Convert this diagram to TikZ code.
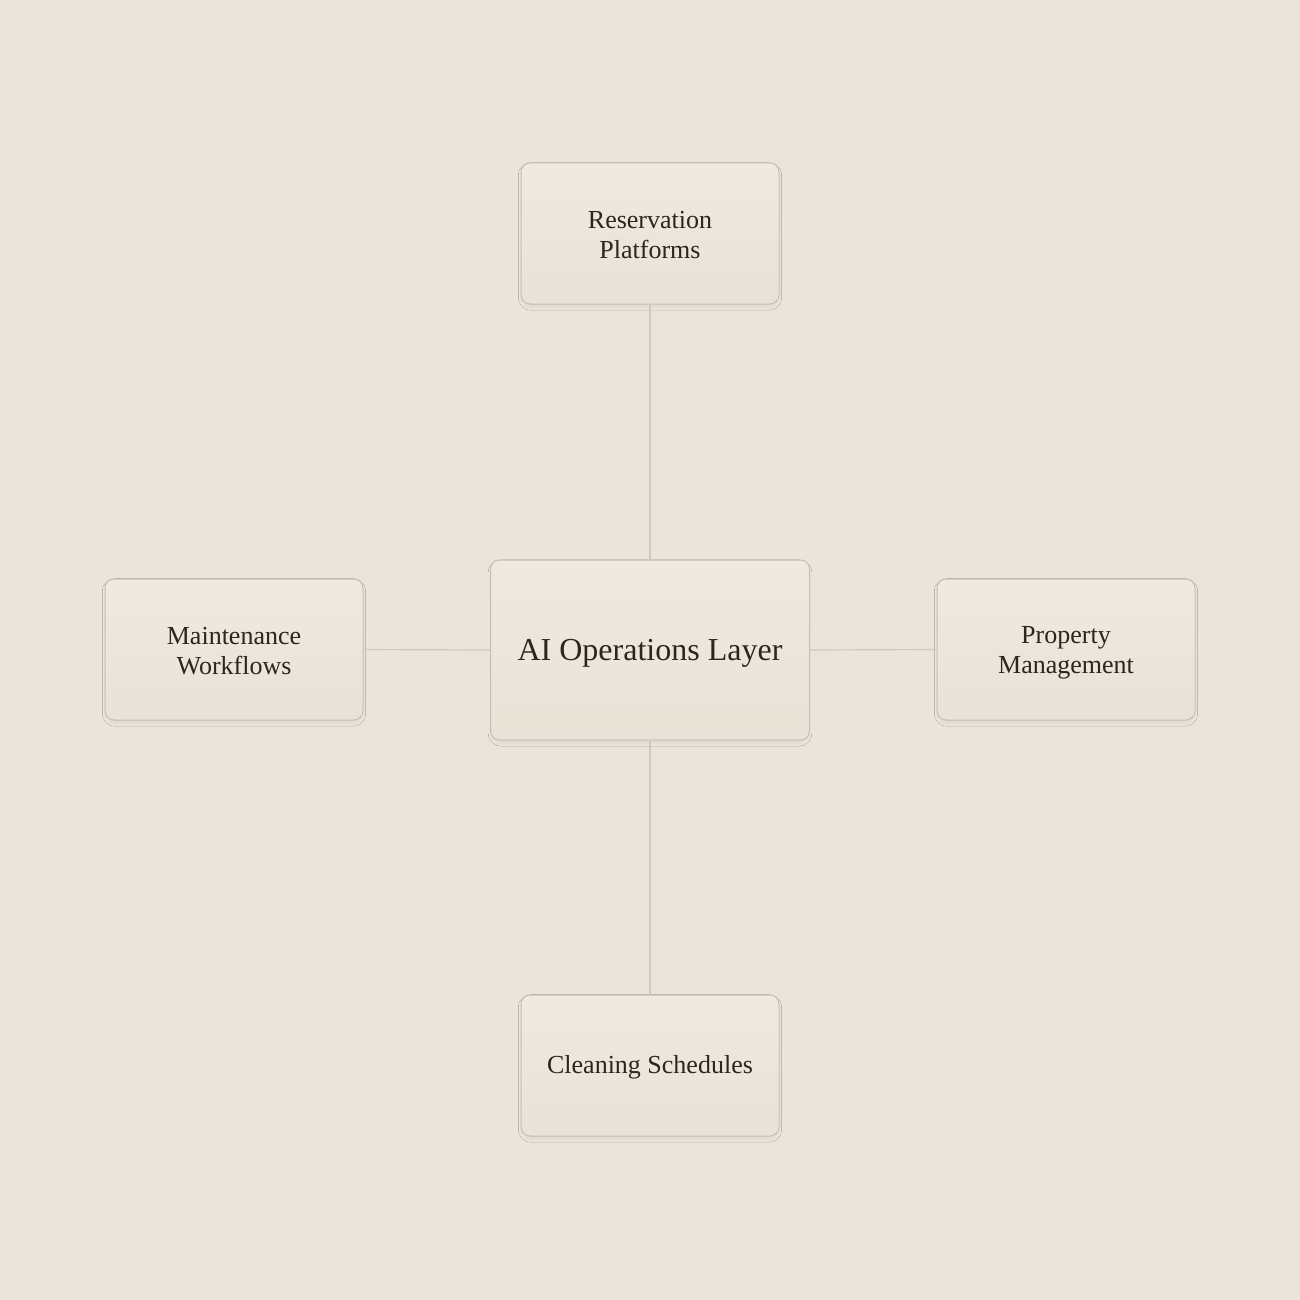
\documentclass[tikz,border=0pt]{standalone}
\usepackage{fontspec}
\setmainfont{Liberation Serif}
\usetikzlibrary{shadows.blur}
\definecolor{bgc}{HTML}{EAE5DA}
\definecolor{boxtop}{HTML}{EFE9E0}
\definecolor{boxbot}{HTML}{E9E2D7}
\definecolor{boxedge}{HTML}{C8BFB3}
\definecolor{linec}{HTML}{D0C9BD}
\definecolor{txt}{HTML}{2A2620}
\tikzset{
  card/.style={draw=boxedge, line width=1pt, rounded corners=9pt, top color=boxtop, bottom color=boxbot,
    inner sep=0pt,
    blur shadow={shadow xshift=0pt, shadow yshift=-3pt, shadow blur steps=8, shadow blur radius=4pt, shadow scale=0.99, shadow opacity=6}},
  sidebox/.style={card, minimum width=258pt, minimum height=141pt},
  mainbox/.style={card, minimum width=319pt, minimum height=180pt},
  sidetext/.style={text=txt, align=center, inner sep=0pt, font=\fontsize{26}{30}\selectfont},
  maintext/.style={text=txt, align=center, inner sep=0pt, font=\fontsize{32}{36}\selectfont},
  link/.style={draw=linec, line width=1.2pt}
}
\begin{document}
\begin{tikzpicture}[x=1pt,y=-1pt]
\fill[bgc] (0,0) rectangle (1300,1300);
\useasboundingbox (0,0) rectangle (1300,1300);
\node[mainbox] (c) at (650,650) {};
\node[sidebox] (t) at (650,233.5) {};
\node[sidebox] (l) at (234,649.5) {};
\node[sidebox] (r) at (1066,649.5) {};
\node[sidebox] (b) at (650,1065.5) {};
\node[maintext] (ct) at ([yshift=-3pt]c.center) {AI Operations Layer};
\node[sidetext] (tt) at ([yshift=-2pt]t.center) {Reservation\\Platforms};
\node[sidetext] (lt) at ([yshift=-2pt]l.center) {Maintenance\\Workflows};
\node[sidetext] (rt) at ([yshift=-3pt]r.center) {Property\\Management};
\node[sidetext] (bt) at ([yshift=-2pt]b.center) {Cleaning Schedules};
\draw[link] (t.south) -- (c.north);
\draw[link] (c.south) -- (b.north);
\draw[link] (l.east) -- (c.west);
\draw[link] (c.east) -- (r.west);
\end{tikzpicture}
\end{document}
